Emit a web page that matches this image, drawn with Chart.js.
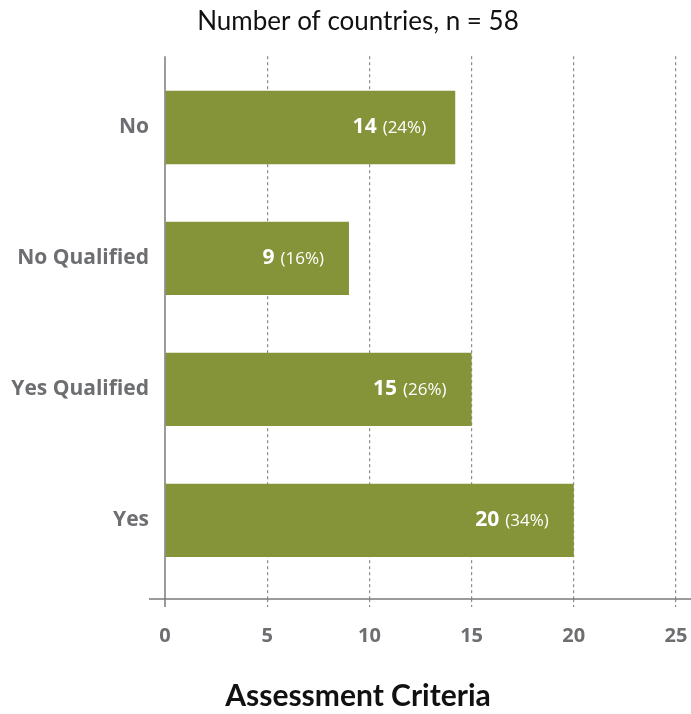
<!DOCTYPE html>
<html>
<head>
<meta charset="utf-8">
<script src="https://cdn.jsdelivr.net/npm/chart.js@4/dist/chart.umd.min.js"></script>
<style>
  html, body { margin: 0; padding: 0; background: #fff; overflow: hidden; }
  #wrap { width: 716px; height: 714px; }
</style>
</head>
<body>
<div id="wrap"><canvas id="criteriaChart" width="716" height="714"></canvas></div>
<script>
const categories = ['No', 'No Qualified', 'Yes Qualified', 'Yes'];
// bar lengths as drawn in the picture (the "No" bar runs a touch past 14)
const barLengths = [14.2, 9, 15, 20];
const counts = [14, 9, 15, 20];
const percents = [24, 16, 26, 34];
const xTicks = [0, 5, 10, 15, 20, 25];

const axisGrey = '#7b7b7b';
const labelGrey = '#6d6e71';

// solid axis lines, the x one runs past the plot on both sides
const axisLines = {
    id: 'axisLines',
    afterDatasetsDraw(chart) {
        const { ctx, chartArea } = chart;
        ctx.save();
        ctx.strokeStyle = axisGrey;
        ctx.lineWidth = 1.5;
        ctx.beginPath();
        ctx.moveTo(chartArea.left, chartArea.top);
        ctx.lineTo(chartArea.left, chartArea.bottom + 8);
        ctx.moveTo(chartArea.left - 16, chartArea.bottom);
        ctx.lineTo(chart.width, chartArea.bottom);
        ctx.stroke();
        ctx.restore();
    }
};

// "14 (24%)" labels inside the bars
const barLabels = {
    id: 'barLabels',
    afterDatasetsDraw(chart) {
        const { ctx } = chart;
        const xScale = chart.scales.x;
        const meta = chart.getDatasetMeta(0);
        ctx.save();
        ctx.fillStyle = '#ffffff';
        ctx.textBaseline = 'middle';
        ctx.textAlign = 'right';
        meta.data.forEach((bar, i) => {
            const right = xScale.getPixelForValue(counts[i]) - 25;
            const pct = '(' + percents[i] + '%)';
            ctx.font = '17px "Open Sans"';
            const pw = ctx.measureText(pct).width;
            ctx.fillText(pct, right, bar.y + 1);
            ctx.font = 'bold 21px "Open Sans"';
            ctx.fillText(String(counts[i]), right - pw - 6, bar.y);
        });
        ctx.restore();
    }
};

const ctx = document.getElementById('criteriaChart').getContext('2d');
new Chart(ctx, {
    type: 'bar',
    data: {
        datasets: [{
            data: barLengths.map((v, i) => ({ x: v, y: i })),
            backgroundColor: '#869439',
            borderWidth: 0,
            barPercentage: 0.56,
            categoryPercentage: 1
        }]
    },
    options: {
        indexAxis: 'y',
        responsive: false,
        animation: false,
        layout: { padding: 0 },
        plugins: {
            legend: { display: false },
            tooltip: { enabled: false },
            title: {
                display: true,
                text: 'Number of countries, n = 58',
                color: '#111',
                font: { family: 'Lato', size: 26, weight: 'normal', lineHeight: 1.2 },
                padding: { top: 6, bottom: 19 }
            },
            subtitle: {
                display: true,
                position: 'bottom',
                text: 'Assessment Criteria',
                color: '#111',
                font: { family: 'Lato', size: 30, weight: 'bold', lineHeight: 1.2 },
                padding: { top: 13, bottom: 0 }
            }
        },
        scales: {
            x: {
                type: 'linear',
                min: 0,
                max: 25,
                afterBuildTicks: (scale) => { scale.ticks = xTicks.map(v => ({ value: v })); },
                border: { display: false, dash: [3, 3] },
                grid: {
                    color: (c) => (c.tick && c.tick.value === 0 ? 'rgba(0,0,0,0)' : '#8c8c8c'),
                    lineWidth: 1.2,
                    tickBorderDash: [3, 3],
                    tickLength: 8
                },
                ticks: {
                    color: labelGrey,
                    padding: 17,
                    font: { family: 'Open Sans', size: 20, weight: 'bold' }
                }
            },
            y: {
                type: 'linear',
                reverse: true,
                offset: false,
                min: -0.544,
                max: 3.6,
                afterBuildTicks: (scale) => { scale.ticks = categories.map((c, i) => ({ value: i })); },
                afterFit: (scale) => { scale.width = 165; },
                border: { display: false },
                grid: { display: false, drawTicks: false },
                ticks: {
                    color: labelGrey,
                    padding: 16,
                    font: { family: 'Open Sans', size: 21, weight: 'bold' },
                    callback: (v) => categories[v]
                }
            },
            // empty right-hand scale, keeps the plot 40px from the canvas edge
            spacer: {
                type: 'linear',
                axis: 'y',
                position: 'right',
                display: true,
                afterFit: (scale) => { scale.width = 40; },
                border: { display: false },
                grid: { display: false, drawTicks: false },
                ticks: { display: false }
            }
        }
    },
    plugins: [axisLines, barLabels]
});
</script>
</body>
</html>
